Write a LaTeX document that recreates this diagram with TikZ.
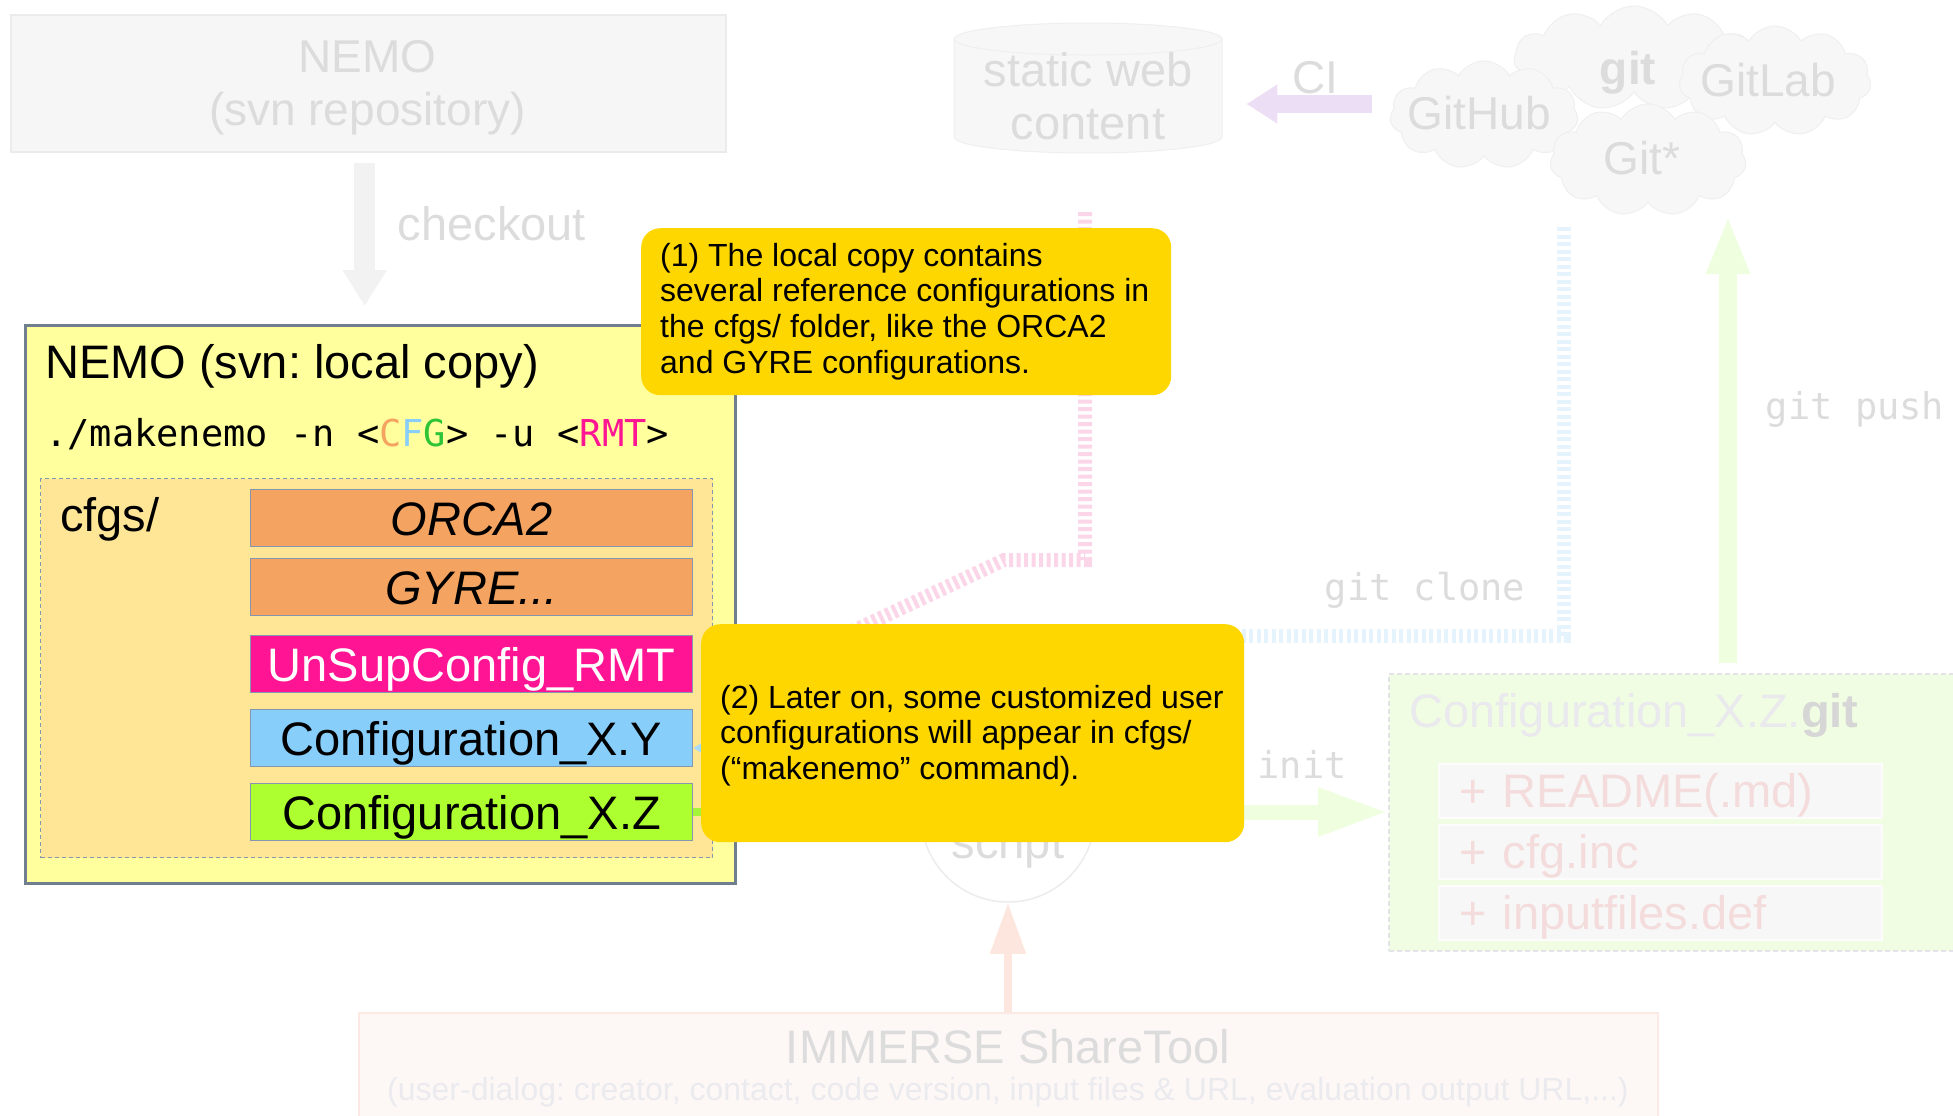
\documentclass[tikz,border=0pt]{standalone}
\usepackage{fontspec}
\setmainfont{Liberation Sans}
\newfontfamily\cmdfont{DejaVu Sans Mono}
\usetikzlibrary{arrows.meta,shapes.symbols}
\newcommand\fsz[2]{\fontsize{#1bp}{#2bp}\selectfont}
\frenchspacing
\definecolor{fadetxt}{HTML}{DCDCDC}
\definecolor{fadefill}{HTML}{F6F6F6}
\definecolor{fadeline}{HTML}{EBEBEB}
\definecolor{cloudfill}{HTML}{F7F7F7}
\definecolor{cloudline}{HTML}{EFEFEF}
\definecolor{localfill}{HTML}{FFFF9E}
\definecolor{localline}{HTML}{6F7F8F}
\definecolor{cfgsfill}{HTML}{FFE697}
\definecolor{cfgline}{HTML}{8496B0}
\definecolor{orca}{HTML}{F4A460}
\definecolor{rmt}{HTML}{FF1493}
\definecolor{cfgy}{HTML}{87CEFA}
\definecolor{cfgz}{HTML}{ADFF2F}
\definecolor{cmdgreen}{HTML}{2EC437}
\definecolor{gold}{HTML}{FFD700}
\definecolor{pinkline}{HTML}{FAD6E8}
\definecolor{blueline}{HTML}{E5F3FD}
\definecolor{tipblue}{HTML}{A8DAFA}
\definecolor{greenpale}{HTML}{EFFEDF}
\definecolor{greenbright}{HTML}{A4F53A}
\definecolor{lavender}{HTML}{ECDFF5}
\definecolor{salmonpale}{HTML}{FDE6DE}
\definecolor{immfill}{HTML}{FDF8F6}
\definecolor{immline}{HTML}{FCE9E4}
\definecolor{subtxt}{HTML}{EBEBEF}
\definecolor{zgitfill}{HTML}{F0FDE2}
\definecolor{zgitline}{HTML}{E2E4E8}
\definecolor{titlefaint}{HTML}{E9E9EE}
\definecolor{gitgray}{HTML}{D6D6D6}
\definecolor{itemfill}{HTML}{F7F7F7}
\definecolor{itemline}{HTML}{FCFCFC}
\definecolor{itemtxt}{HTML}{F5DCDC}
\definecolor{circline}{HTML}{ECECEC}
\definecolor{ckgray}{HTML}{F2F2F2}
\begin{document}
\begin{tikzpicture}[x=1bp,y=-1bp,
  fadetext/.style={text=fadetxt, inner sep=0pt},
  cfgbox/.style={draw=cfgline, line width=1bp, minimum width=442bp, minimum height=57bp,
    inner sep=0pt, text height=34bp, text depth=0bp, anchor=north west},
  calloutbox/.style={fill=gold, rounded corners=19bp, inner sep=0pt, anchor=north west},
  callouttext/.style={align=left, inner sep=0pt, anchor=north west, font=\fsz{32}{35.8}},
  monolabel/.style={text=fadetxt, inner sep=0pt, font=\cmdfont\fsz{37}{44}},
  cloudbg/.style={cloud, cloud puffs=11, cloud puff arc=120, cloud ignores aspect,
    draw=cloudline, fill=cloudfill, line width=1bp, inner sep=0pt},
  itembox/.style={fill=itemfill, draw=itemline, line width=1.5bp, anchor=north west,
    text width=401bp, inner xsep=21bp, inner ysep=0pt, minimum height=54bp,
    text height=34bp, text depth=0bp, align=left, text=itemtxt, font=\fsz{47}{54}},
  hatchline/.style={line width=14bp, dash pattern=on 4bp off 3.5bp},
]
\useasboundingbox (0,0) rectangle (1953,1115);
\clip (0,0) rectangle (1953,1115);

% ---------- NEMO svn repository ----------
\node[draw=fadeline, fill=fadefill, line width=1.5bp, anchor=north west,
  minimum width=715bp, minimum height=137bp, inner sep=0pt] (svn) at (10,14) {};
\node[fadetext, anchor=north, align=center, font=\fsz{46}{53}] (svntext) at (367.5,40)
  {NEMO\\(svn repository)};

% ---------- static web content (cylinder) ----------
\node[minimum width=268bp, minimum height=130bp, inner sep=0pt, anchor=north west] (webcyl) at (954,23) {};
\filldraw[fill=cloudfill, draw=cloudline, line width=1bp]
  (954,39) -- (954,137) arc[start angle=180, end angle=0, x radius=134, y radius=16]
  -- (1222,39) arc[start angle=360, end angle=180, x radius=134, y radius=16] -- cycle;
\draw[cloudline, line width=1bp] (954,39) arc[start angle=180, end angle=0, x radius=134, y radius=16];
\node[fadetext, anchor=north, align=center, font=\fsz{47}{53}] (webtext) at (1088,52)
  {static web\\content};

% ---------- clouds ----------
\node[cloudbg, minimum width=240bp, minimum height=104bp] (cgit) at (1634,58) {};
\node[cloudbg, minimum width=192bp, minimum height=110bp] (cgitlab) at (1775,81) {};
\node[cloudbg, minimum width=188bp, minimum height=108bp] (cgithub) at (1484,115) {};
\node[cloudbg, minimum width=196bp, minimum height=112bp] (cgitstar) at (1648,160) {};
\node[fadetext, font=\fsz{46}{53}\bfseries] (gittext) at (1628,73) {git};
\node[fadetext, font=\fsz{46}{53}] (gitlabtext) at (1768,80) {GitLab};
\node[fadetext, font=\fsz{46}{53}] (githubtext) at (1479,113) {GitHub};
\node[fadetext, font=\fsz{46}{53}] (gitstartext) at (1642,158) {Git*};

% ---------- CI arrow ----------
\coordinate (ciStart) at (1372,104);
\draw[lavender, line width=18bp, -{Triangle[length=31bp,width=37bp]}, shorten >=24bp]
  (ciStart) -- (ciStart -| webcyl.east);
\node[fadetext, font=\fsz{46}{53}] (citext) at (1315,78) {CI};

% ---------- checkout ----------
\node[draw=localline, line width=2.5bp, fill=localfill, anchor=north west,
  minimum width=710bp, minimum height=558bp, inner sep=0pt] (local) at (24,324) {};
\draw[ckgray, line width=21bp, -{Triangle[length=36bp,width=42bp]},
  shorten <=10bp, shorten >=18bp, transform canvas={xshift=-3.5bp}] (svn.south) -- (svn.south |- local.north);
\node[fadetext, font=\fsz{47}{54}] (checkouttext) at (492,224) {checkout};

% ---------- local copy content ----------
\node[anchor=base west, inner sep=0pt, font=\fsz{47}{54}] (localtitle) at (45,378)
  {NEMO (svn: local copy)};
\node[anchor=base west, inner sep=0pt, font=\cmdfont\fsz{37}{44}] (cmd) at (45,446)
  {./makenemo -n <\textcolor{orca}{C}\textcolor{cfgy}{F}\textcolor{cmdgreen}{G}> -u <\textcolor{rmt}{RMT}>};
\node[draw=cfgline, line width=1bp, dash pattern=on 4bp off 3bp, fill=cfgsfill, anchor=north west,
  minimum width=672bp, minimum height=379bp, inner sep=0pt] (cfgs) at (40,478) {};
\node[anchor=base west, inner sep=0pt, font=\fsz{47}{54}] (cfgslabel) at (60,531) {cfgs/};
\node[cfgbox, fill=orca, font=\fsz{47}{54}\itshape] (orca) at (250,489) {ORCA2};
\node[cfgbox, fill=orca, font=\fsz{47}{54}\itshape] (gyre) at (250,558) {GYRE...};
\node[cfgbox, fill=rmt, text=white, font=\fsz{47}{54}] (unsup) at (250,635) {UnSupConfig\_RMT};
\node[cfgbox, fill=cfgy, font=\fsz{47}{54}] (cxy) at (250,709) {Configuration\_X.Y};
\node[cfgbox, fill=cfgz, font=\fsz{47}{54}] (cxz) at (250,783) {Configuration\_X.Z};

% ---------- script circle ----------
\node[circle, draw=circline, line width=1.5bp, fill=white, minimum size=174bp, inner sep=0pt] (script) at (1008,815) {};
\node[fadetext, anchor=base, font=\fsz{47}{54}] (scripttext) at (1008,858) {script};

% ---------- Configuration_X.Z.git ----------
\node[draw=zgitline, line width=1.5bp, dash pattern=on 5bp off 3bp, fill=zgitfill, anchor=north west,
  minimum width=600bp, minimum height=277bp, inner sep=0pt] (zgit) at (1388,673) {};
\node[anchor=base west, inner sep=0pt, font=\fsz{47}{54}] (zgittitle) at (1409,727)
  {\textcolor{titlefaint}{Configuration\_X.Z.}\textcolor{gitgray}{\bfseries git}};
\node[itembox] (readme) at (1438,763) {+ README(.md)};
\node[itembox] (cfginc) at (1438,824) {+ cfg.inc};
\node[itembox] (inputs) at (1438,885) {+ inputfiles.def};

% ---------- connectors ----------
\coordinate (pk1) at (1085,212);
\coordinate (pk2) at (1085,560);
\coordinate (pk3) at (1004,560);
\coordinate (pk4) at (800,656);
\draw[pinkline, hatchline] (pk1) -- (pk2) -- (pk3) -- (pk4);

\coordinate (cl1) at (1564,227);
\coordinate (cl2) at (1564,636);
\coordinate (cl3) at (740,636);
\coordinate (cl4) at (740,748);
\draw[blueline, hatchline, -{Triangle[length=30bp,width=34bp,color=tipblue]}]
  (cl1) -- (cl2) -- (cl3) -- (cl4) -- (cl4 -| cxy.east);

\draw[greenbright, line width=8bp] (cxz.east) -- (cxz.east -| script.west);
\draw[greenpale, line width=15bp, -{Triangle[length=70bp,width=45bp]}]
  (script.east |- cxz.east) -- (cxz.east -| zgit.west);
\node[monolabel] (inittext) at (1302,764) {init};

\coordinate (pushBase) at (1728,663);
\coordinate (pushTip) at (1728,216);
\draw[greenpale, line width=18bp, -{Triangle[length=58bp,width=40bp]}] (pushBase) -- (pushTip);
\node[monolabel] (pushtext) at (1855,409) {git push};
\node[monolabel] (clonetext) at (1425,590) {git clone};

% ---------- callouts ----------
\node[calloutbox, minimum width=530bp, minimum height=167bp] (call1) at (641,228) {};
\node[callouttext] (call1text) at ([xshift=19bp,yshift=-14.7bp]call1.north west)
  {(1) The local copy contains\\several reference configurations in\\the cfgs/ folder, like the ORCA2\\and GYRE configurations.};
\node[calloutbox, minimum width=543bp, minimum height=218bp] (call2) at (701,624) {};
\node[callouttext] (call2text) at ([xshift=19bp,yshift=-60.7bp]call2.north west)
  {(2) Later on, some customized user\\configurations will appear in cfgs/\\(“makenemo” command).};

% ---------- IMMERSE ShareTool ----------
\node[fill=immfill, draw=immline, line width=1.5bp, anchor=north west,
  minimum width=1299bp, minimum height=130bp, inner sep=0pt] (immerse) at (358,1012) {};
\draw[salmonpale, line width=8bp, -{Triangle[length=51bp,width=34bp]}]
  (immerse.north -| script.south) -- (script.south);
\node[fadetext, anchor=base, font=\fsz{47}{54}] (immtitle) at (1008,1063) {IMMERSE ShareTool};
\node[anchor=base, inner sep=0pt, text=subtxt, font=\fsz{32}{38}] (immsub) at (1008,1100)
  {(user-dialog: creator, contact, code version, input files \& URL, evaluation output URL,...)};
\end{tikzpicture}
\end{document}
